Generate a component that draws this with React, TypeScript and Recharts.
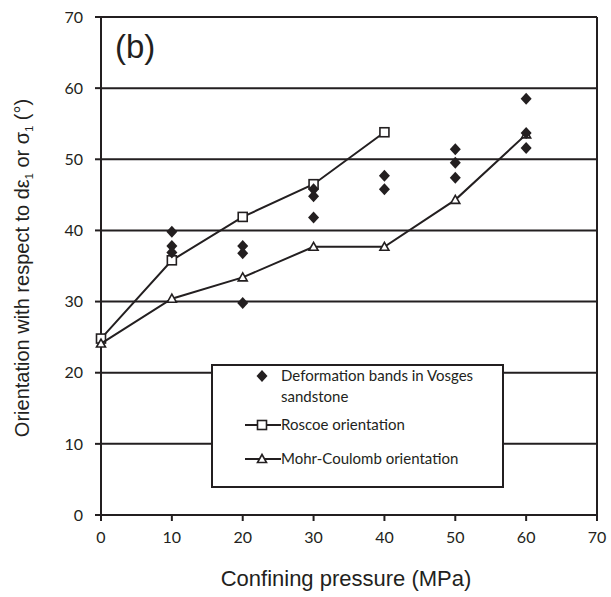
import React from "react";
import { ComposedChart, Scatter, XAxis, YAxis, CartesianGrid, ReferenceLine } from "recharts";

const ink = "#231f20";

// deformation bands in Vosges sandstone (measured)
const bandPressure = [10, 10, 10, 20, 20, 20, 30, 30, 30, 40, 40, 50, 50, 50, 60, 60, 60];
const bandAngle = [39.8, 37.8, 36.9, 37.8, 36.8, 29.8, 45.8, 44.8, 41.8, 47.7, 45.8, 51.4, 49.5, 47.4, 58.5, 53.7, 51.6];

// Roscoe orientation
const roscoePressure = [0, 10, 20, 30, 40];
const roscoeAngle = [24.8, 35.8, 41.9, 46.5, 53.8];

// Mohr-Coulomb orientation
const mcPressure = [0, 10, 20, 30, 40, 50, 60];
const mcAngle = [24.1, 30.4, 33.4, 37.7, 37.7, 44.3, 53.5];

const ticks = [0, 10, 20, 30, 40, 50, 60, 70];

const bands = bandPressure.map((x, i) => ({ x, y: bandAngle[i] }));
const roscoe = roscoePressure.map((x, i) => ({ x, y: roscoeAngle[i] }));
const mohr = mcPressure.map((x, i) => ({ x, y: mcAngle[i] }));

const Diamond = (props: any) => {
  const { cx, cy } = props;
  return <polygon points={`${cx},${cy - 6} ${cx + 5.5},${cy} ${cx},${cy + 6} ${cx - 5.5},${cy}`} fill={ink} />;
};

const Square = (props: any) => {
  const { cx, cy } = props;
  return <rect x={cx - 4.5} y={cy - 4.5} width={9} height={9} fill="#fff" stroke={ink} strokeWidth={1.6} />;
};

const Triangle = (props: any) => {
  const { cx, cy } = props;
  return (
    <polygon
      points={`${cx},${cy - 4.5} ${cx + 4.5},${cy + 3.5} ${cx - 4.5},${cy + 3.5}`}
      fill="#fff"
      stroke={ink}
      strokeWidth={1.6}
    />
  );
};

const tickStyle = { fill: ink, fontSize: 16, fontFamily: "Lato" };
const legendFont = { fontSize: 15, fontFamily: "Lato", fill: ink };

export default function App() {
  return (
    <div style={{ position: "absolute", left: 0, top: 0, width: 611, height: 597, background: "#fff" }}>
      <ComposedChart width={611} height={597} margin={{ top: 17, right: 14, bottom: 42, left: 0 }}>
        <CartesianGrid vertical={false} stroke={ink} strokeWidth={2} />
        <XAxis
          type="number"
          dataKey="x"
          domain={[0, 70]}
          ticks={ticks}
          height={40}
          tick={tickStyle}
          tickSize={6}
          tickMargin={11}
          axisLine={{ stroke: ink, strokeWidth: 2 }}
          tickLine={{ stroke: ink, strokeWidth: 2 }}
        />
        <YAxis
          type="number"
          dataKey="y"
          domain={[0, 70]}
          ticks={ticks}
          width={101}
          tick={tickStyle}
          tickSize={6}
          tickMargin={12}
          axisLine={{ stroke: ink, strokeWidth: 2 }}
          tickLine={{ stroke: ink, strokeWidth: 2 }}
        />
        <ReferenceLine x={70} stroke={ink} strokeWidth={2} />
        <Scatter data={roscoe} line={{ stroke: ink, strokeWidth: 2 }} lineType="joint" shape={<Square />} isAnimationActive={false} />
        <Scatter data={mohr} line={{ stroke: ink, strokeWidth: 2 }} lineType="joint" shape={<Triangle />} isAnimationActive={false} />
        <Scatter data={bands} shape={<Diamond />} isAnimationActive={false} />
      </ComposedChart>

      <svg width={611} height={597} style={{ position: "absolute", left: 0, top: 0, pointerEvents: "none" }}>
        <text x={115} y={58} fontSize={33} fontFamily="Liberation Sans, Arial" fill={ink}>
          (b)
        </text>
        <text x={346} y={586} textAnchor="middle" fontSize={22} fontFamily="Liberation Sans, Arial" fill={ink}>
          Confining pressure (MPa)
        </text>
        <text
          transform="translate(29,268) rotate(-90)"
          textAnchor="middle"
          fontSize={20}
          fontFamily="Liberation Sans, Arial"
          fill={ink}
        >
          Orientation with respect to dε
          <tspan fontSize={11} dy={4}>1</tspan>
          <tspan dy={-4}> or σ</tspan>
          <tspan fontSize={11} dy={4}>1</tspan>
          <tspan dy={-4}> (°)</tspan>
        </text>

        <rect x={212} y={365} width={291} height={122} fill="#fff" stroke={ink} strokeWidth={2} />
        <polygon points="262,370 267.5,376 262,382 256.5,376" fill={ink} />
        <text x={281} y={381} {...legendFont}>
          Deformation bands in Vosges
        </text>
        <text x={281} y={402} {...legendFont}>
          sandstone
        </text>
        <line x1={245} y1={425} x2={281} y2={425} stroke={ink} strokeWidth={2} />
        <rect x={257.5} y={420.5} width={9} height={9} fill="#fff" stroke={ink} strokeWidth={1.6} />
        <text x={281} y={430} {...legendFont}>
          Roscoe orientation
        </text>
        <line x1={245} y1={459} x2={281} y2={459} stroke={ink} strokeWidth={2} />
        <polygon points="262,454.5 266.5,462.5 257.5,462.5" fill="#fff" stroke={ink} strokeWidth={1.6} />
        <text x={281} y={464} {...legendFont}>
          Mohr-Coulomb orientation
        </text>
      </svg>
    </div>
  );
}
